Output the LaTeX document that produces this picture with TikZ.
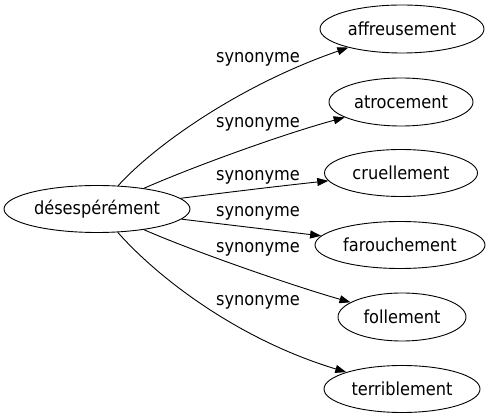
\documentclass[tikz,border=0pt]{standalone}
\usepackage{fontspec}
\setmainfont{DejaVu Sans Condensed}
\usetikzlibrary{shapes.geometric,arrows.meta}
\tikzset{
  word/.style={draw,line width=0.9pt,ellipse,inner sep=0pt,font=\fontsize{18}{20}\selectfont},
  lab/.style={inner sep=0pt,font=\fontsize{18}{20}\selectfont},
  syn/.style={draw,line width=0.9pt,-{Triangle[length=11pt,width=8pt]}}
}
\begin{document}
\begin{tikzpicture}[x=1pt,y=-1pt]
\useasboundingbox (0,0) rectangle (493,419);
\node[word,minimum width=186pt,minimum height=47pt] (src) at (97,209) {désespérément};
\node[word,minimum width=164pt,minimum height=48pt] (t1) at (402,29) {affreusement};
\node[word,minimum width=144pt,minimum height=48pt] (t2) at (401,102) {atrocement};
\node[word,minimum width=153pt,minimum height=47pt] (t3) at (401,173) {cruellement};
\node[word,minimum width=170pt,minimum height=47pt] (t4) at (400,245) {farouchement};
\node[word,minimum width=128pt,minimum height=48pt] (t5) at (402,317) {follement};
\node[word,minimum width=156pt,minimum height=47pt] (t6) at (402,389) {terriblement};
\node[lab] (l1) at (258,59) {synonyme};
\node[lab] (l2) at (258,124) {synonyme};
\node[lab] (l3) at (258,177) {synonyme};
\node[lab] (l4) at (258,213) {synonyme};
\node[lab] (l5) at (258,249) {synonyme};
\node[lab] (l6) at (258,302) {synonyme};
\draw[syn] (src) .. controls (155,145) and (240,85) .. (t1);
\draw[syn] (src) .. controls (190,168) and (280,135) .. (t2);
\draw[syn] (src) .. controls (230,192) and (280,186) .. (t3);
\draw[syn] (src) .. controls (230,225) and (280,231) .. (t4);
\draw[syn] (src) .. controls (190,250) and (290,285) .. (t5);
\draw[syn] (src) .. controls (160,280) and (240,340) .. (t6);
\end{tikzpicture}
\end{document}
